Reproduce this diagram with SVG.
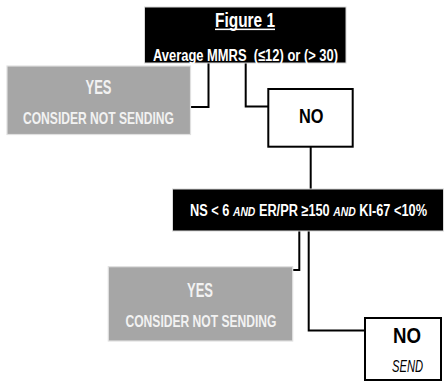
<svg xmlns="http://www.w3.org/2000/svg" width="444" height="383" viewBox="0 0 444 383">
<style>
text{font-family:"Liberation Sans",Arial,sans-serif;font-weight:bold;white-space:pre}
.blk{fill:#000;stroke:#d8d8d8;stroke-width:1}
.gry{fill:#a6a6a6;stroke:#e0e0e0;stroke-width:1.2}
.wht{fill:#fff;stroke:#000;stroke-width:2}
.wt{fill:#fff}
.gt{fill:#f2f2f2}
.bt{fill:#000}
.it{font-style:italic}
.ln{fill:none;stroke:#000;stroke-width:2}
</style>
<rect width="444" height="383" fill="#fff"/>
<g id="connectors">
<polyline class="ln" points="208.5,63 208.5,107 191,107"/>
<polyline class="ln" points="245.7,63 245.7,106.5 268,106.5"/>
<polyline class="ln" points="310.7,147 310.7,189"/>
<polyline class="ln" points="299.3,231 299.3,270 293,270"/>
<polyline class="ln" points="308.7,231 308.7,330.5 365,330.5"/>
</g>
<g id="node-figure1">
<rect class="blk" x="144.5" y="7" width="201.5" height="56"/>
<text class="wt" x="215" y="26.5" font-size="20" textLength="60" lengthAdjust="spacingAndGlyphs">Figure 1</text>
<rect x="215" y="28.6" width="60" height="1.5" fill="#fff"/>
<text class="wt" x="153" y="60.5" font-size="16.5" textLength="185" lengthAdjust="spacingAndGlyphs" xml:space="preserve">Average MMRS  (≤12) or (&gt; 30)</text>
</g>
<g id="node-yes1">
<rect class="gry" x="7" y="66" width="183.5" height="68.5"/>
<text class="gt" x="85.5" y="93.5" font-size="20" textLength="26" lengthAdjust="spacingAndGlyphs">YES</text>
<text class="gt" x="23" y="123.5" font-size="16.5" textLength="151" lengthAdjust="spacingAndGlyphs">CONSIDER NOT SENDING</text>
</g>
<g id="node-no1">
<rect class="wht" x="268.3" y="89" width="84.4" height="57.7"/>
<text class="bt" x="299" y="122.5" font-size="21" textLength="24.5" lengthAdjust="spacingAndGlyphs">NO</text>
</g>
<g id="node-criteria">
<rect class="blk" x="172.5" y="189" width="271" height="42"/>
<text class="wt" x="190" y="216" font-size="16" textLength="237" lengthAdjust="spacingAndGlyphs" xml:space="preserve">NS &lt; 6 <tspan class="it" font-size="13">AND</tspan> ER/PR ≥150 <tspan class="it" font-size="13">AND</tspan> KI-67 &lt;10%</text>
</g>
<g id="node-yes2">
<rect class="gry" x="108.3" y="266.7" width="184.4" height="74.3"/>
<text class="gt" x="187" y="296.5" font-size="20" textLength="26" lengthAdjust="spacingAndGlyphs">YES</text>
<text class="gt" x="125.5" y="326.5" font-size="16.5" textLength="151" lengthAdjust="spacingAndGlyphs">CONSIDER NOT SENDING</text>
</g>
<g id="node-no2">
<rect class="wht" x="365" y="318" width="76" height="62"/>
<text class="bt" x="393" y="342.5" font-size="22" textLength="28" lengthAdjust="spacingAndGlyphs">NO</text>
<text class="bt it" x="392" y="372" font-size="16" style="font-weight:normal" textLength="31" lengthAdjust="spacingAndGlyphs">SEND</text>
</g>
</svg>
